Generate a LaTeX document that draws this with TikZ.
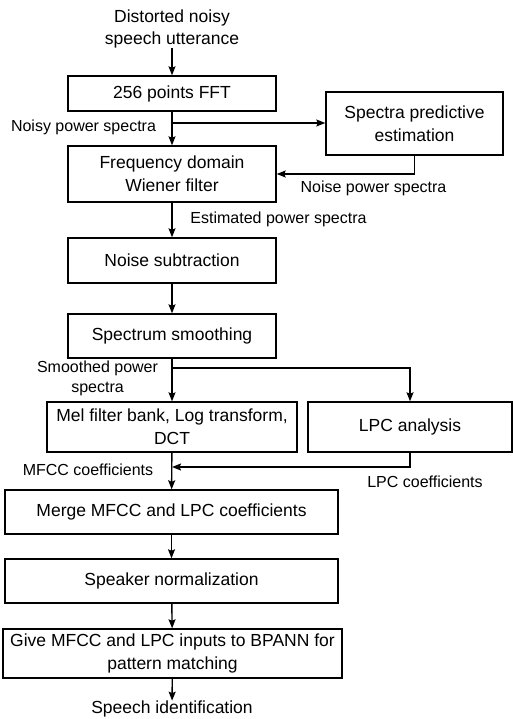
\documentclass[tikz,border=0pt]{standalone}
\usepackage{fontspec}
\setmainfont{Liberation Sans}
\usetikzlibrary{arrows.meta}

\tikzset{
	box/.style={draw, line width=1.4pt, align=center, inner sep=0pt, font=\fontsize{17.5}{23}\selectfont},
	txt/.style={align=center, inner sep=0pt, font=\fontsize{17.5}{22}\selectfont},
	lbl/.style={align=center, inner sep=0pt, font=\fontsize{16}{20}\selectfont},
	flow/.style={-{Stealth[length=9pt, width=7pt, inset=1.5pt]}, line width=1.4pt}
}

\begin{document}
\begin{tikzpicture}[x=1pt, y=-1pt]
			\useasboundingbox (0, 0) rectangle (513, 719);
			\node at (172, 29) [txt] (input) {Distorted noisy\\speech utterance};
			\node at (172, 93.5) [box, minimum width=208pt, minimum height=35pt] (fft) {256 points FFT};
			\node at (414.5, 123.5) [box, minimum width=177pt, minimum height=63pt] (spe) {Spectra predictive\\estimation};
			\node at (172, 174) [box, minimum width=208pt, minimum height=56pt] (wiener) {Frequency domain\\Wiener filter};
			\node at (172, 260.5) [box, minimum width=208pt, minimum height=45pt] (sub) {Noise subtraction};
			\node at (172, 336) [box, minimum width=208pt, minimum height=44pt] (smooth) {Spectrum smoothing};
			\node at (172, 427) [box, minimum width=250pt, minimum height=50pt] (mel) {Mel filter bank, Log transform,\\DCT};
			\node at (410, 427) [box, minimum width=204pt, minimum height=50pt] (lpc) {LPC analysis};
			\node at (171.5, 512) [box, minimum width=333pt, minimum height=44pt] (merge) {Merge MFCC and LPC coefficients};
			\node at (171.5, 581) [box, minimum width=333pt, minimum height=44pt] (norm) {Speaker normalization};
			\node at (172.5, 653.5) [box, minimum width=339pt, minimum height=49pt] (bpann) {Give MFCC and LPC inputs to BPANN for\\pattern matching};
			\node at (172, 709) [txt] (output) {Speech identification};
			% labels
			\node at (83.5, 127) [lbl] (noisy) {Noisy power spectra};
			\node at (373.5, 188) [lbl] (noise) {Noise power spectra};
			\node at (278.5, 219) [lbl] (est) {Estimated power spectra};
			\node at (97.5, 378) [lbl] (smoothed) {Smoothed power\\spectra};
			\node at (88, 470) [lbl] (mfcc) {MFCC coefficients};
			\node at (425, 482) [lbl] (lpcc) {LPC coefficients};
			% branch points
			\coordinate (split1) at (172, 123);
			\coordinate (split2) at (172, 368);
			\coordinate (join) at (172, 467);
			% main chain
			\draw [flow](input) -- (fft);
			\draw [flow](fft) -- (wiener);
			\draw [flow](wiener) -- (sub);
			\draw [flow](sub) -- (smooth);
			\draw [flow](smooth) -- (mel);
			\draw [flow](mel) -- (merge);
			\draw [flow](merge) -- (norm);
			\draw [flow](norm) -- (bpann);
			\draw [flow](bpann) -- (output);
			% side paths
			\draw [flow](split1) -- (split1 -| spe.west);
			\draw [flow](spe.south) |- (wiener.east);
			\draw [flow](split2) -| (lpc.north);
			\draw [flow](lpc.south) |- (join);
		\end{tikzpicture}
\end{document}
